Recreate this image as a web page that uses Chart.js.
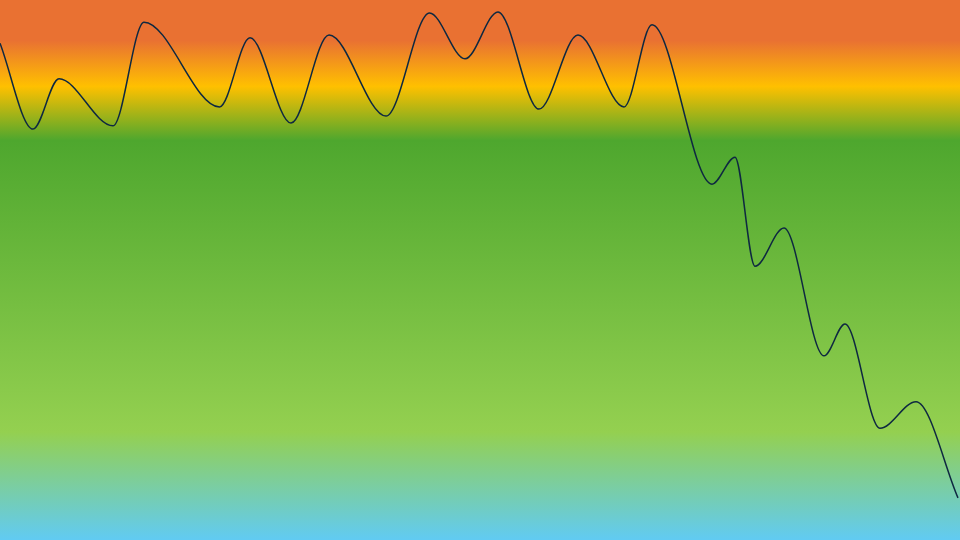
<!DOCTYPE html>
<html lang="en">
<head>
    <meta charset="UTF-8">
    <title>Trend</title>
    <script src="https://cdn.jsdelivr.net/npm/chart.js"></script>
    <style>
        html, body { margin: 0; padding: 0; overflow: hidden; }
        #wrap { width: 960px; height: 540px; }
    </style>
</head>
<body>
    <div id="wrap"><canvas id="trendChart"></canvas></div>
    <script>
        // values (x in tenths of the width, y 0..100)
        const xs = [0, 3.3, 5.9, 11.3, 14.4, 21.95, 25, 29.1, 32.9, 38.6, 42.95, 46.5, 49.8, 53.9, 57.8, 62.4, 65.2, 71.2, 73.5, 75.5, 78.4, 82.4, 84.5, 88.0, 91.6, 95.8];
        const ys = [92.0, 76.1, 85.4, 76.7, 95.9, 80.2, 93.0, 77.2, 93.5, 78.5, 97.6, 89.1, 97.8, 79.8, 93.5, 80.2, 95.4, 65.9, 70.9, 50.7, 57.8, 34.1, 40.0, 20.7, 25.6, 7.8];

        // background band colours, top to bottom
        const bandStops = [0, 0.075, 0.16, 0.26, 0.8, 1];
        const bandColors = ['#e97132', '#e97132', '#ffc000', '#4ea72e', '#94d050', '#61cbf3'];

        const bandBackground = {
            id: 'bandBackground',
            beforeDraw(chart) {
                const { ctx, width, height } = chart;
                const g = ctx.createLinearGradient(0, 0, 0, height);
                bandStops.forEach((s, i) => g.addColorStop(s, bandColors[i]));
                ctx.save();
                ctx.fillStyle = g;
                ctx.fillRect(0, 0, width, height);
                ctx.restore();
            }
        };

        const ctx = document.getElementById('trendChart').getContext('2d');
        new Chart(ctx, {
            type: 'line',
            data: {
                datasets: [{
                    data: xs.map((x, i) => ({ x: x, y: ys[i] })),
                    borderColor: '#0e2841',
                    borderWidth: 1.5,
                    pointRadius: 0,
                    cubicInterpolationMode: 'monotone',
                    fill: false
                }]
            },
            options: {
                responsive: true,
                maintainAspectRatio: false,
                animation: false,
                layout: { padding: 0 },
                plugins: { legend: { display: false }, tooltip: { enabled: false } },
                scales: {
                    x: { type: 'linear', min: 0, max: 96, display: false },
                    y: { min: 0, max: 100, display: false }
                }
            },
            plugins: [bandBackground]
        });
    </script>
</body>
</html>
